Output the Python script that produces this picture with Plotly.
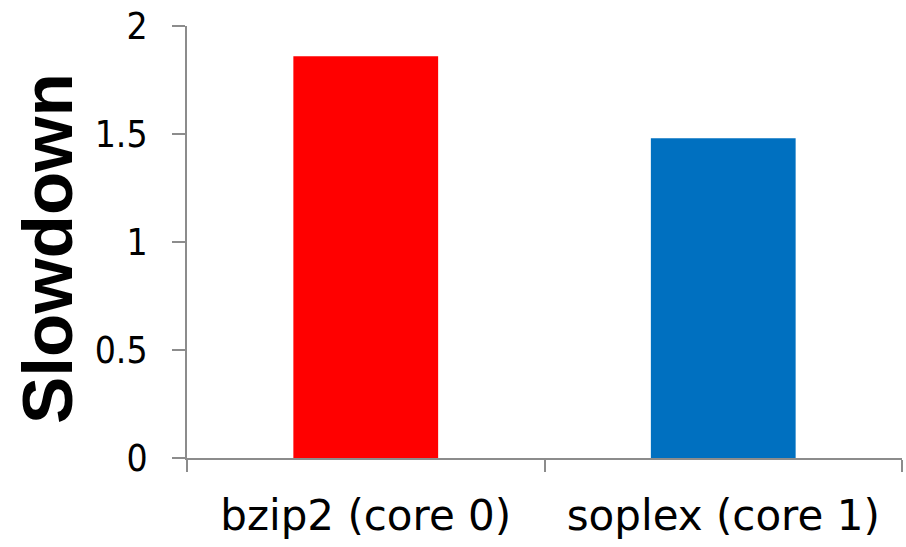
import plotly.graph_objects as go

categories = ["bzip2 (core 0)", "soplex (core 1)"]
slowdown = [1.86, 1.48]
bar_colors = ["#FF0000", "#0070C0"]
y_ticks = [0, 0.5, 1, 1.5, 2]
y_tick_text = ["0", "0.5", "1", "1.5", "2"]
y_title = "Slowdown"

axis_grey = "#8C8C8C"
x_font = dict(family="DejaVu Sans, Tahoma", size=42, color="black")
y_font = dict(family="DejaVu Sans Condensed, Tahoma, DejaVu Sans", size=37, color="black")

fig = go.Figure(
    go.Bar(
        x=categories,
        y=slowdown,
        marker=dict(color=bar_colors, line=dict(width=0)),
        width=0.405,
    )
)

fig.update_layout(
    width=906,
    height=547,
    margin=dict(l=187, r=4, t=26, b=89),
    plot_bgcolor="white",
    paper_bgcolor="white",
    showlegend=False,
)

fig.update_xaxes(
    showline=True,
    linecolor=axis_grey,
    linewidth=2,
    ticks="outside",
    tickson="boundaries",
    ticklen=12,
    tickwidth=2,
    tickcolor=axis_grey,
    showgrid=False,
    tickfont=x_font,
    ticklabelstandoff=20,
)

fig.update_yaxes(
    range=[0, 2],
    tickvals=y_ticks,
    ticktext=y_tick_text,
    showline=True,
    linecolor=axis_grey,
    linewidth=2,
    ticks="outside",
    ticklen=13,
    tickwidth=2,
    tickcolor=axis_grey,
    showgrid=False,
    zeroline=False,
    tickfont=y_font,
    ticklabelstandoff=17,
)

# Rotated y-axis title placed as an annotation for precise positioning
fig.add_annotation(
    text=y_title,
    textangle=-90,
    xref="paper",
    yref="paper",
    x=-0.195,
    y=0.485,
    xanchor="center",
    yanchor="middle",
    showarrow=False,
    font=dict(family="Liberation Sans, Arial", size=71, color="black", weight="bold"),
)

fig.write_html("out.html")
